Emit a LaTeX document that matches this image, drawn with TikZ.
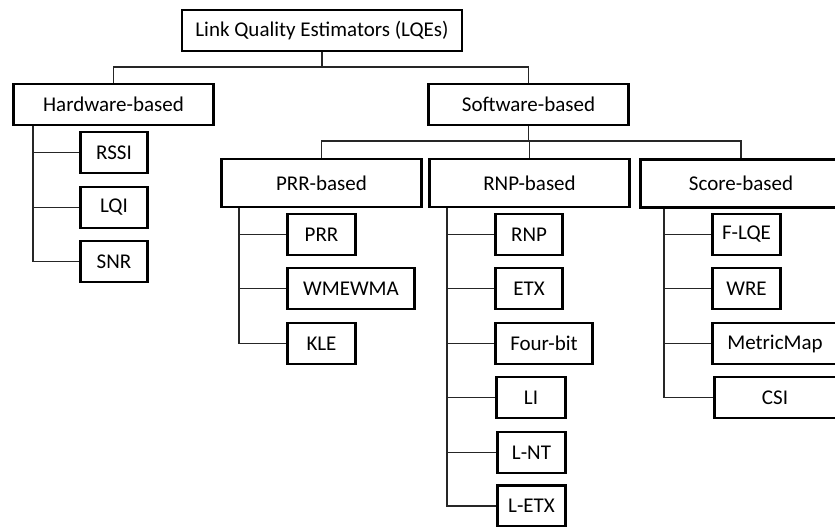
\documentclass[tikz,border=0pt]{standalone}
\usepackage{fontspec}
\setmainfont{Carlito}
\begin{document}
\begin{tikzpicture}[x=1pt,y=-1pt,
  box/.style={draw=black,line width=2.2pt,inner sep=0pt,minimum height=41pt,
    font=\fontsize{21}{25}\selectfont,anchor=center},
  bigbox/.style={box,minimum height=48pt},
  conn/.style={draw=black!85,line width=1.1pt}]
\useasboundingbox (0,0) rectangle (835,527);
\clip (0,0) rectangle (835,527);
% level 0
\node[box,minimum width=280pt] (root) at (322,30.5) {Link Quality Estimators (LQEs)};
% level 1
\node[box,minimum width=200pt] (hw) at (113.5,104.5) {Hardware-based};
\node[box,minimum width=200pt] (sw) at (528.5,104.5) {Software-based};
% hardware children
\node[box,minimum width=67pt] (rssi) at (114,152.5) {RSSI};
\node[box,minimum width=67pt] (lqi) at (114,207.5) {LQI};
\node[box,minimum width=67pt] (snr) at (114,261.5) {SNR};
% level 2
\node[bigbox,minimum width=200pt] (prrb) at (321.5,183) {PRR-based};
\node[bigbox,minimum width=200pt] (rnpb) at (529.5,183) {RNP-based};
\node[bigbox,minimum width=221pt] (scoreb) at (751,183.5) {\kern-20pt Score-based};
% PRR children
\node[box,minimum width=68pt] (prr) at (321.5,234.5) {PRR};
\node[box,minimum width=127pt] (wmewma) at (351,288.5) {WMEWMA};
\node[box,minimum width=68pt] (kle) at (321.5,343.5) {KLE};
% RNP children
\node[box,minimum width=67pt] (rnp) at (529,234.5) {RNP};
\node[box,minimum width=67pt] (etx) at (529,288.5) {ETX};
\node[box,minimum width=97pt] (fourbit) at (544,343.5) {Four-bit};
\node[box,minimum width=69pt] (li) at (531,397.5) {LI};
\node[box,minimum width=68pt] (lnt) at (531.5,452.5) {L-NT};
\node[box,minimum width=68pt] (letx) at (531.5,506) {L-ETX};
% Score children
\node[box,minimum width=68pt] (flqe) at (746.5,234.5) {F-LQE};
\node[box,minimum width=68pt] (wre) at (746.5,288.5) {WRE};
\node[box,minimum width=145pt] (metricmap) at (785,343.5) {\kern-20pt MetricMap};
\node[box,minimum width=141pt] (csi) at (785,397.5) {\kern-20pt CSI};
% bus coordinates
\coordinate (bus0) at (0,67);
\coordinate (bus1) at (0,141);
\coordinate (hwspine) at (33,0);
\coordinate (prrspine) at (239,0);
\coordinate (rnpspine) at (447,0);
\coordinate (scorespine) at (664,0);
\coordinate (scoretop) at (741,0);
% root to level 1
\draw[conn] (root.south) -- (root.south |- bus0);
\draw[conn] (hw.north) -- (hw.north |- bus0) -- (sw.north |- bus0) -- (sw.north);
% software to level 2
\draw[conn] (sw.south) -- (sw.south |- bus1);
\draw[conn] (prrb.north) -- (prrb.north |- bus1) -- (scoretop |- bus1) -- (scoretop |- scoreb.north);
\draw[conn] (rnpb.north) -- (rnpb.north |- bus1);
% hardware spine
\draw[conn] (hwspine |- hw.south) -- (hwspine |- snr.west) -- (snr.west);
\draw[conn] (hwspine |- rssi.west) -- (rssi.west);
\draw[conn] (hwspine |- lqi.west) -- (lqi.west);
% PRR spine
\draw[conn] (prrspine |- prrb.south) -- (prrspine |- kle.west) -- (kle.west);
\draw[conn] (prrspine |- prr.west) -- (prr.west);
\draw[conn] (prrspine |- wmewma.west) -- (wmewma.west);
% RNP spine
\draw[conn] (rnpspine |- rnpb.south) -- (rnpspine |- letx.west) -- (letx.west);
\draw[conn] (rnpspine |- rnp.west) -- (rnp.west);
\draw[conn] (rnpspine |- etx.west) -- (etx.west);
\draw[conn] (rnpspine |- fourbit.west) -- (fourbit.west);
\draw[conn] (rnpspine |- li.west) -- (li.west);
\draw[conn] (rnpspine |- lnt.west) -- (lnt.west);
% Score spine
\draw[conn] (scorespine |- scoreb.south) -- (scorespine |- csi.west) -- (csi.west);
\draw[conn] (scorespine |- flqe.west) -- (flqe.west);
\draw[conn] (scorespine |- wre.west) -- (wre.west);
\draw[conn] (scorespine |- metricmap.west) -- (metricmap.west);
\end{tikzpicture}
\end{document}
